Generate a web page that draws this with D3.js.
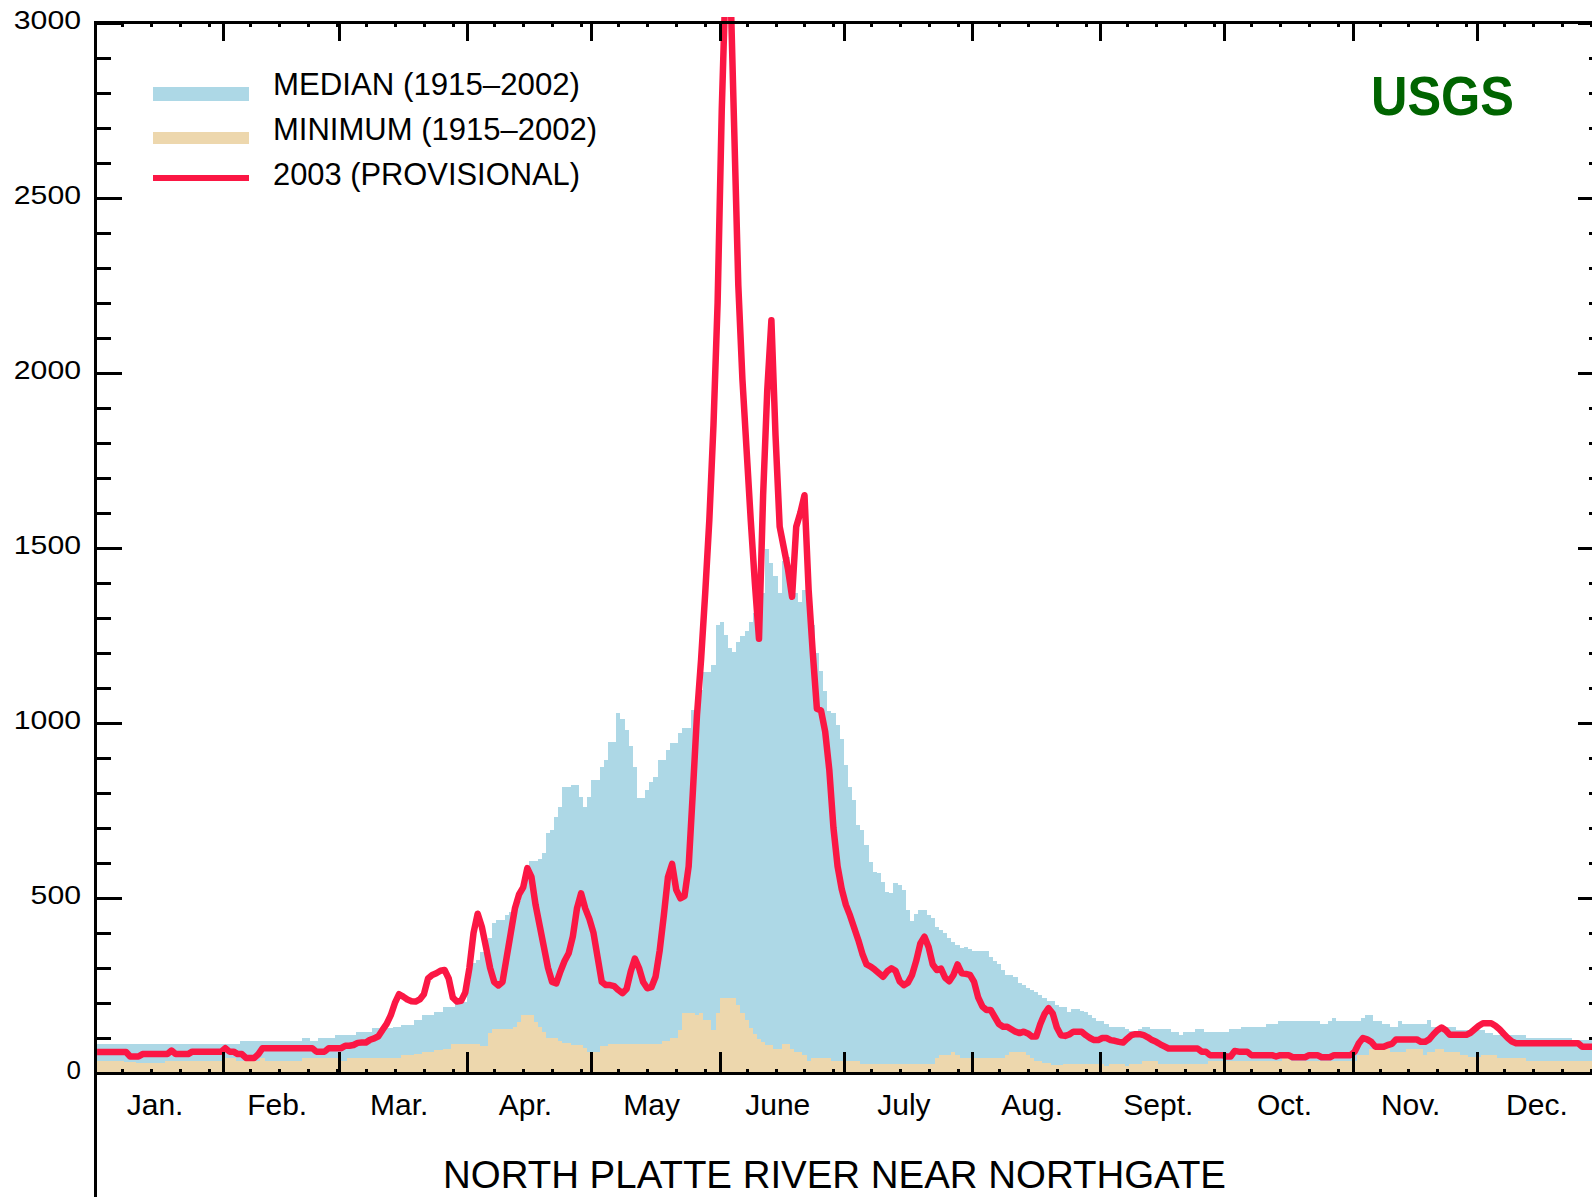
<!DOCTYPE html>
<html><head><meta charset="utf-8">
<script src="https://cdn.jsdelivr.net/npm/d3@7"></script>
<style>html,body{margin:0;padding:0;background:#fff;} svg{display:block;}</style>
</head><body>
<svg id="chart" width="1592" height="1197"></svg>
<script>
// ---------- DATA ----------
const monthLabels = ["Jan.","Feb.","Mar.","Apr.","May","June","July","Aug.","Sept.","Oct.","Nov.","Dec."];
const monthStartDays = [0,31,59,90,120,151,181,212,243,273,304,334,365];
const yMajorTicks = [0,500,1000,1500,2000,2500,3000];
const yLabels = ["0","500","1000","1500","2000","2500","3000"];
const legendLabels = ["MEDIAN (1915–2002)","MINIMUM (1915–2002)","2003 (PROVISIONAL)"];
const titleText = "NORTH PLATTE RIVER NEAR NORTHGATE";
const logoText = "USGS";

// daily discharge, Jan 1 .. Dec 31
const median = [
 // Jan
 83,83,83,83,83,83,83,83,83,83,83,83,83,83,83,83,83,83,83,83,83,83,83,83,83,83,83,83,83,83,83,
 // Feb
 83,83,83,83,91,91,91,91,91,91,91,91,91,91,91,91,91,91,91,100,100,91,91,100,100,100,100,109,
 // Mar
 109,109,109,109,118,118,118,118,128,128,128,128,128,132,132,137,137,137,150,150,166,166,166,175,175,189,189,189,204,204,204,
 // Apr
 266,313,322,345,365,385,428,437,437,451,460,470,490,520,570,604,604,610,628,685,694,732,761,818,818,823,823,789,761,789,
 // May
 837,837,875,894,946,946,1027,1012,980,933,875,784,784,808,832,846,894,894,922,941,941,970,984,984,1037,1060,1094,1146,1146,1165,1280,
 // Jun
 1289,1251,1213,1203,1232,1248,1263,1289,1313,1313,1370,1497,1456,1418,1370,1461,1475,1440,1370,1346,1380,1330,1280,1199,1147,1091,1035,1027,994,953,
 // Jul
 879,817,781,708,695,650,603,575,570,546,518,513,542,537,523,466,434,455,466,466,451,442,418,408,399,385,375,366,356,361,353,
 // Aug
 347,347,347,347,330,321,310,294,280,280,273,258,251,244,237,230,223,215,207,207,194,188,188,175,182,182,178,174,166,156,149,
 // Sep
 149,140,131,131,131,131,126,120,120,126,131,131,126,126,126,126,126,117,117,109,117,117,117,126,126,117,117,117,117,117,
 // Oct
 117,126,126,126,131,131,131,131,131,131,140,140,140,149,149,149,149,149,149,149,149,149,149,140,140,149,157,149,149,149,149,
 // Nov
 149,149,157,166,166,149,149,140,140,132,132,149,140,140,140,140,140,140,150,132,132,132,132,132,132,123,123,123,123,123,
 // Dec
 123,123,115,115,109,109,109,109,109,109,109,109,99,99,99,99,99,99,99,99,99,99,99,94,94,94,94,94,94,94,94
];

const minimum = [
 // Jan
 34,34,34,34,34,34,34,30,30,30,28,28,28,28,28,28,28,34,34,34,34,34,34,34,34,34,34,34,34,34,34,
 // Feb
 43,43,43,34,34,34,34,34,34,43,34,34,34,34,34,34,34,34,34,43,43,43,43,43,43,43,43,43,
 // Mar
 34,34,42,42,42,42,42,42,42,42,42,42,42,42,42,51,51,51,55,55,61,61,61,66,66,68,68,83,83,83,83,
 // Apr
 83,83,83,78,78,113,126,126,126,126,126,132,147,166,166,166,147,132,118,99,99,99,92,85,85,80,80,80,70,61,
 // May
 61,61,77,77,83,83,83,83,83,83,83,83,83,83,83,83,83,92,92,99,99,123,172,172,172,166,171,152,152,123,171,
 // Jun
 213,213,213,213,194,170,150,128,112,97,88,80,80,69,69,83,83,68,61,61,51,35,44,44,44,44,44,35,35,35,
 // Jul
 35,35,35,35,26,26,26,26,26,26,26,26,26,26,26,26,26,26,26,26,26,26,42,51,51,51,61,51,44,44,44,
 // Aug
 44,44,44,44,44,44,44,44,51,61,61,61,61,51,44,35,35,28,28,23,23,23,26,26,26,26,26,26,26,26,26,
 // Sep
 26,19,26,26,26,26,20,26,26,26,34,34,34,34,26,26,26,26,26,26,26,26,26,26,26,26,34,34,34,34,
 // Oct
 34,34,34,34,34,34,34,34,34,34,34,34,34,34,42,42,34,34,34,34,34,34,34,34,34,34,34,34,34,34,34,
 // Nov
 34,51,51,51,69,69,69,69,69,61,61,61,61,69,69,69,69,51,61,61,69,69,61,61,61,61,51,51,45,45,
 // Dec
 45,51,51,51,51,44,44,44,44,44,44,44,34,34,34,34,34,34,34,34,34,34,34,34,34,34,34,34,34,34,34
];

const flow2003 = [
 // Jan
 60,60,60,60,60,60,60,60,47,47,47,54,54,54,54,54,54,54,64,54,54,54,54,61,61,61,61,61,61,61,61,
 // Feb
 71,61,61,54,54,43,43,43,54,71,71,71,71,71,71,71,71,71,71,71,71,71,61,61,61,71,71,71,
 // Mar
 71,78,78,80,86,87,87,95,99,105,123,140,165,200,225,218,210,205,204,210,225,270,280,285,292,294,270,215,204,206,230,
 // Apr
 300,400,455,418,360,300,260,250,260,330,400,470,510,530,585,560,480,420,360,300,260,256,290,320,342,390,470,513,470,440,
 // May
 400,330,260,251,251,248,237,228,240,290,327,300,260,242,245,275,350,450,560,597,523,499,505,590,800,1020,1180,1370,1580,1850,2200,
 // Jun
 2750,3150,3150,2700,2250,1980,1780,1580,1400,1240,1650,1950,2150,1820,1560,1500,1440,1360,1560,1600,1650,1380,1200,1040,1035,975,865,700,590,525,
 // Jul
 480,450,415,380,340,310,304,295,285,275,290,299,292,262,251,258,280,320,370,389,360,310,294,298,272,262,280,310,285,283,280,
 // Aug
 260,215,190,180,180,160,140,132,132,125,118,114,118,113,104,104,140,168,185,170,130,108,106,110,118,118,118,108,100,94,94,
 // Sep
 100,100,94,92,89,87,98,108,111,111,108,102,94,89,82,76,70,70,70,70,70,70,70,70,61,61,51,51,51,51,
 // Oct
 47,47,63,61,61,61,51,51,51,51,51,51,47,51,51,51,45,45,45,45,51,51,51,45,45,45,51,51,51,51,51,
 // Nov
 61,85,100,96,89,75,75,75,80,83,96,96,96,96,96,96,89,89,96,110,122,130,122,109,109,109,109,109,115,125,
 // Dec
 135,142,142,142,135,125,112,100,90,85,85,85,85,85,85,85,85,85,85,85,85,85,85,85,85,75,75,75,75,75,75
];

// ---------- CHART ----------
const FONT = "'Liberation Sans', Arial, Helvetica, sans-serif";
const svg = d3.select("#chart");
const x = d3.scaleLinear().domain([0, 365]).range([95, 1605]);
const y = d3.scaleLinear().domain([0, 3000]).range([1073, 22.5]);

svg.append("defs").append("clipPath").attr("id", "plotclip")
  .append("rect").attr("x", x(0)).attr("y", 17)
  .attr("width", x(365) - x(0)).attr("height", y(0) - 17);

const plot = svg.append("g").attr("clip-path", "url(#plotclip)");

const stepPoints = arr => arr.map((v, i) => ({d: i, v: v}))
  .concat([{d: arr.length, v: arr[arr.length - 1]}]);
const area = d3.area()
  .x(p => x(p.d)).y0(y(0)).y1(p => y(p.v))
  .curve(d3.curveStepAfter);

plot.append("path").datum(stepPoints(median)).attr("d", area)
  .attr("fill", "#ADD8E6").attr("shape-rendering", "crispEdges");
plot.append("path").datum(stepPoints(minimum)).attr("d", area)
  .attr("fill", "#EDD7AD").attr("shape-rendering", "crispEdges");

const line = d3.line().x((v, i) => x(i + 0.5)).y(v => y(v));
plot.append("path").datum(flow2003).attr("d", line)
  .attr("fill", "none").attr("stroke", "#FB1744").attr("stroke-width", 6.5)
  .attr("stroke-linejoin", "round");

// ---------- AXES ----------
const minorY = d3.range(0, 3001, 100);
const minorDays = [];
monthStartDays.slice(0, 12).forEach(s => [6.5, 13.5, 20.5, 27.5].forEach(o => minorDays.push(s + o)));

function styleTicks(g) {
  g.select(".domain").remove();
  g.selectAll(".tick line").attr("stroke", "#000").attr("stroke-width", 3)
    .attr("shape-rendering", "crispEdges");
  g.selectAll(".tick text").remove();
}
// left axis ticks (inward)
svg.append("g").attr("transform", `translate(${x(0)},0)`)
  .call(d3.axisRight(y).tickValues(minorY).tickSize(16)).call(styleTicks);
svg.append("g").attr("transform", `translate(${x(0)},0)`)
  .call(d3.axisRight(y).tickValues(yMajorTicks).tickSize(27)).call(styleTicks);
// right axis ticks (inward)
svg.append("g").attr("transform", `translate(${x(365)},0)`)
  .call(d3.axisLeft(y).tickValues(minorY).tickSize(16)).call(styleTicks);
svg.append("g").attr("transform", `translate(${x(365)},0)`)
  .call(d3.axisLeft(y).tickValues(yMajorTicks).tickSize(27)).call(styleTicks);
// bottom axis ticks (pointing up)
svg.append("g").attr("transform", `translate(0,${y(0)})`)
  .call(d3.axisTop(x).tickValues(minorDays).tickSize(4)).call(styleTicks);
svg.append("g").attr("transform", `translate(0,${y(0)})`)
  .call(d3.axisTop(x).tickValues(monthStartDays).tickSize(21)).call(styleTicks);
// top axis ticks (pointing down)
svg.append("g").attr("transform", `translate(0,${y(3000)})`)
  .call(d3.axisBottom(x).tickValues(minorDays).tickSize(4)).call(styleTicks);
svg.append("g").attr("transform", `translate(0,${y(3000)})`)
  .call(d3.axisBottom(x).tickValues(monthStartDays).tickSize(18)).call(styleTicks);

// frame lines
const frame = svg.append("g").attr("stroke", "#000").attr("stroke-width", 3)
  .attr("shape-rendering", "crispEdges");
frame.append("line").attr("x1", x(0)).attr("x2", x(0)).attr("y1", y(3000) - 1.5).attr("y2", 1197);
frame.append("line").attr("x1", x(0)).attr("x2", x(365)).attr("y1", y(3000)).attr("y2", y(3000));
frame.append("line").attr("x1", x(0)).attr("x2", x(365)).attr("y1", y(0)).attr("y2", y(0));
frame.append("line").attr("x1", x(365)).attr("x2", x(365)).attr("y1", y(3000)).attr("y2", y(0));

// y labels
const yLab = svg.append("g").attr("font-family", FONT).attr("font-size", 26).attr("fill", "#000");
yMajorTicks.forEach((v, i) => {
  const t = yLab.append("text").attr("x", 81).attr("y", y(v) + 6)
    .attr("text-anchor", "end").text(yLabels[i]);
  const n = yLabels[i].length;
  if (n > 1) t.attr("textLength", n * 16.8).attr("lengthAdjust", "spacingAndGlyphs");
});

// month labels
const mLab = svg.append("g").attr("font-family", FONT).attr("font-size", 30).attr("fill", "#000");
monthLabels.forEach((m, i) => {
  const cx = (x(monthStartDays[i]) + x(monthStartDays[i + 1])) / 2 - 4;
  mLab.append("text").attr("x", cx).attr("y", 1115).attr("text-anchor", "middle").text(m);
});

// title
svg.append("text").attr("x", 443).attr("y", 1188)
  .attr("font-family", FONT).attr("font-size", 38).attr("fill", "#000")
  .attr("textLength", 783).attr("lengthAdjust", "spacingAndGlyphs")
  .text(titleText);

// legend
const leg = svg.append("g");
leg.append("rect").attr("x", 153).attr("y", 87).attr("width", 96).attr("height", 14)
  .attr("fill", "#ADD8E6").attr("shape-rendering", "crispEdges");
leg.append("rect").attr("x", 153).attr("y", 132).attr("width", 96).attr("height", 12)
  .attr("fill", "#EDD7AD").attr("shape-rendering", "crispEdges");
leg.append("rect").attr("x", 153).attr("y", 175).attr("width", 96).attr("height", 6)
  .attr("fill", "#FB1744").attr("shape-rendering", "crispEdges");
const legW = [307, 324, 307];
const legY = [95, 140, 185];
legendLabels.forEach((s, i) => {
  leg.append("text").attr("x", 273).attr("y", legY[i])
    .attr("font-family", FONT).attr("font-size", 31).attr("fill", "#000")
    .attr("textLength", legW[i]).attr("lengthAdjust", "spacingAndGlyphs").text(s);
});

// USGS logo text
svg.append("text").attr("x", 1371).attr("y", 115)
  .attr("font-family", FONT).attr("font-weight", "bold").attr("font-size", 56)
  .attr("fill", "#006400").attr("textLength", 143).attr("lengthAdjust", "spacingAndGlyphs")
  .text(logoText);
</script>
</body></html>
